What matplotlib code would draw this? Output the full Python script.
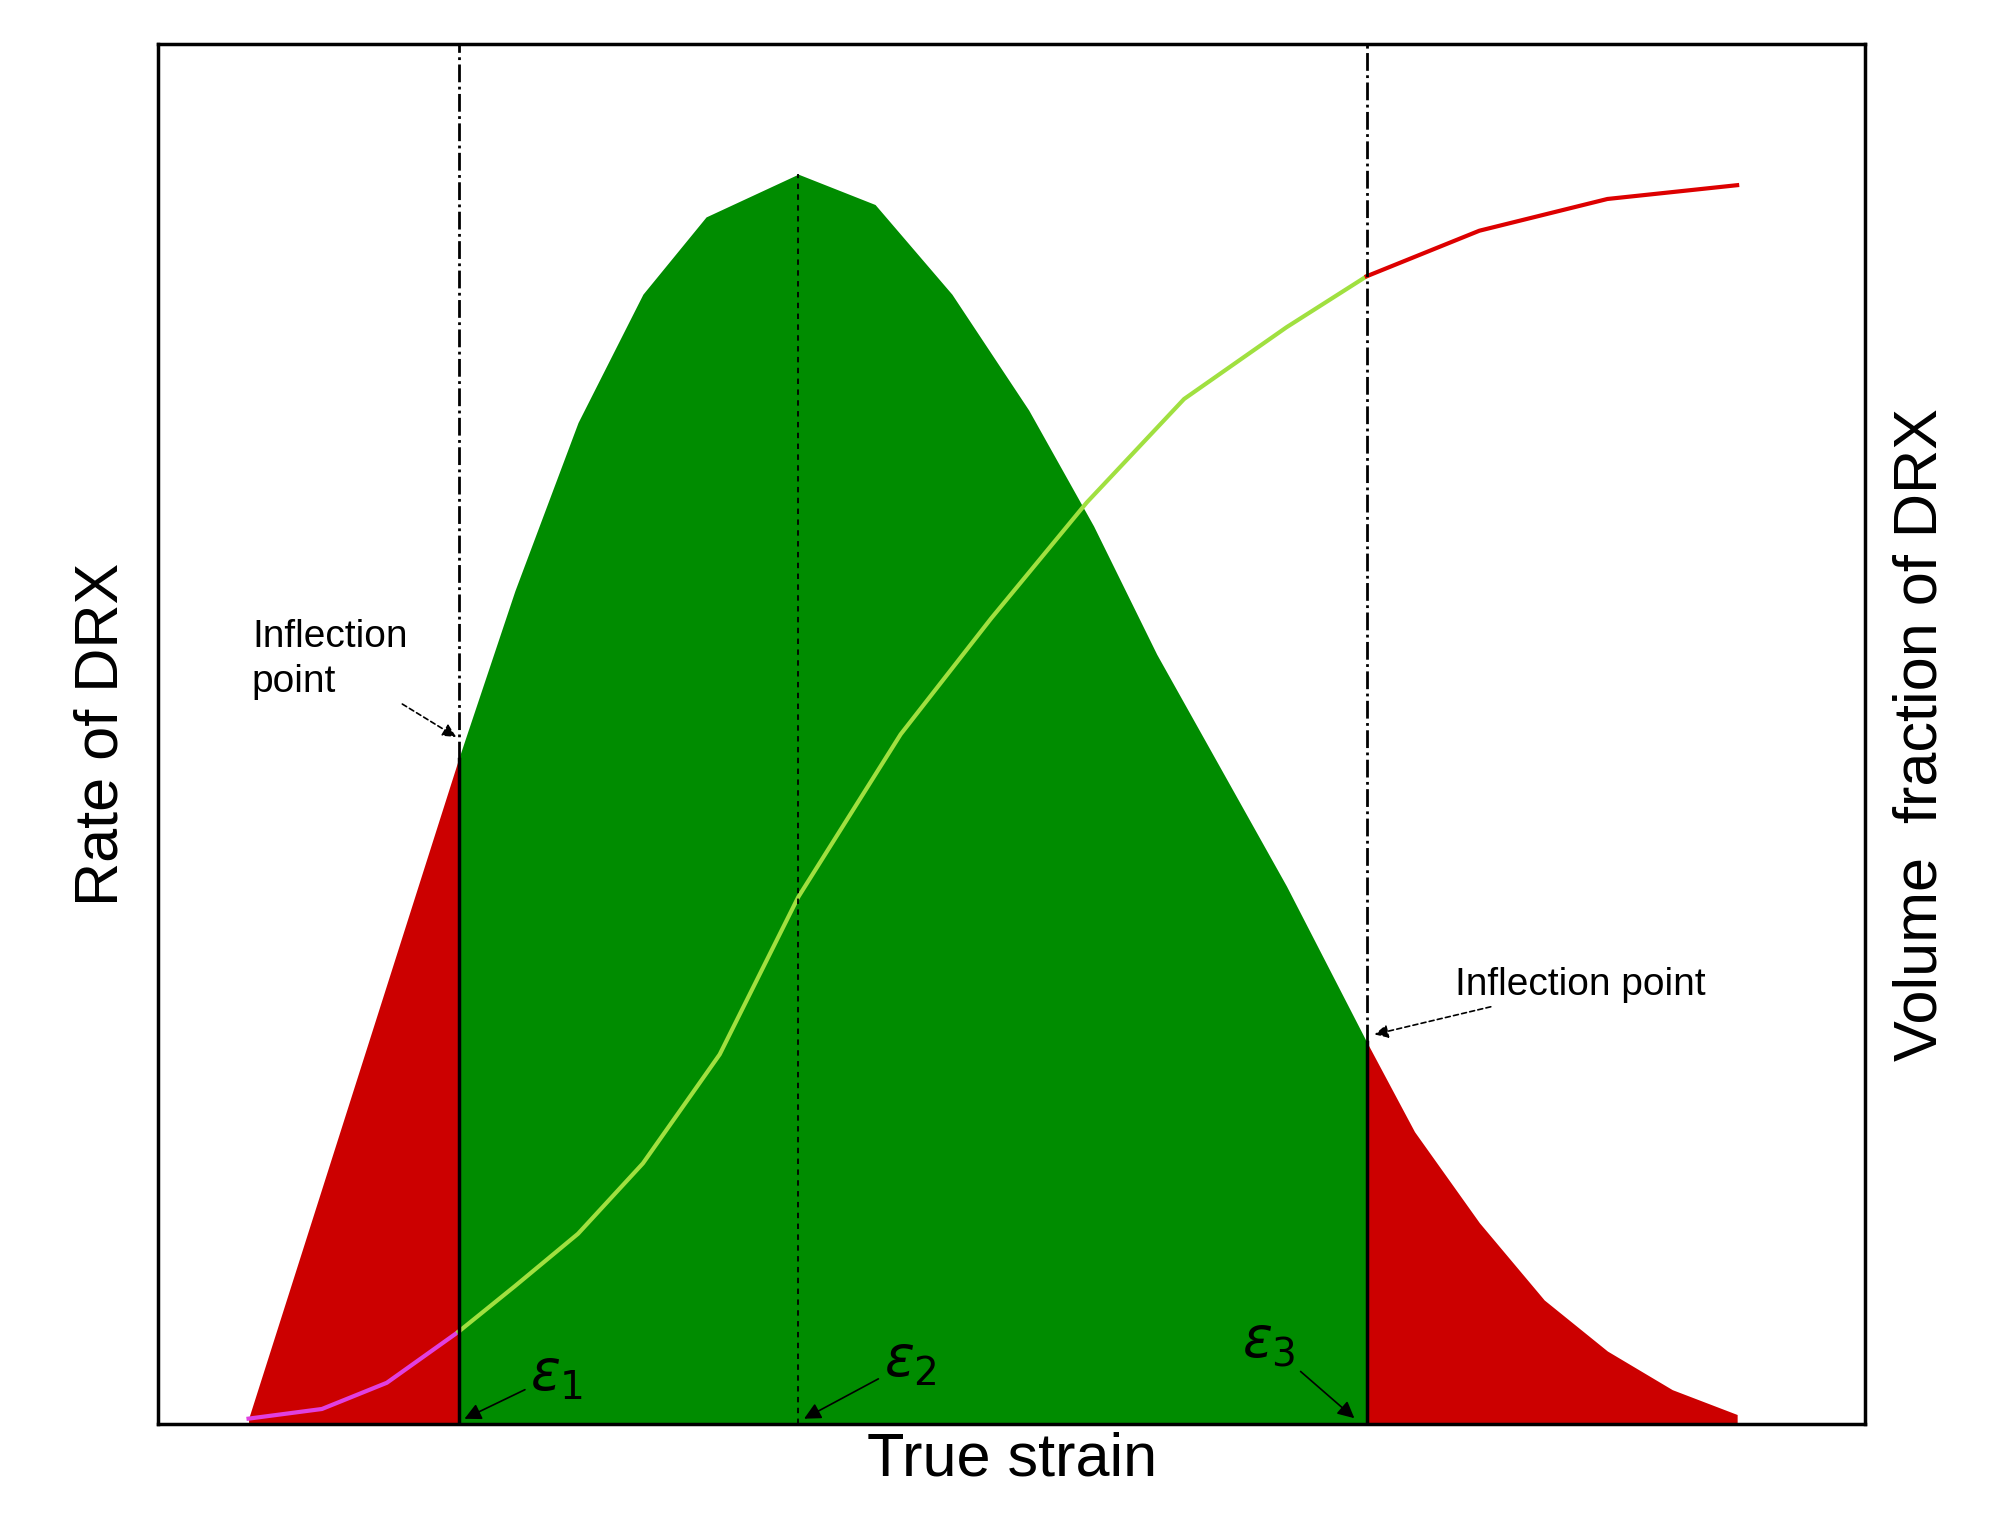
import matplotlib
matplotlib.use("Agg")
import matplotlib.pyplot as plt
import numpy as np

plt.rcParams['font.family'] = ['Liberation Sans', 'DejaVu Sans']

# Rate of DRX curve (x, y in 0-100 plot units)
rate_x = [5.3, 17.6, 20.9, 24.6, 28.4, 32.1, 37.5, 42.0, 46.5, 51.0, 54.8, 58.5, 62.3, 66.1, 70.8, 73.6, 77.4, 81.2, 84.9, 88.7, 92.5]
rate_y = [0.4, 48.2, 60.4, 72.6, 81.9, 87.5, 90.6, 88.4, 81.9, 73.5, 65.1, 55.8, 47.4, 39.0, 27.7, 21.2, 14.6, 9.0, 5.3, 2.5, 0.7]
# Volume fraction curve
vol_x = [5.3, 9.6, 13.4, 17.6, 20.9, 24.6, 28.4, 32.9, 37.5, 43.5, 48.8, 54.4, 60.1, 66.1, 70.8, 77.4, 84.9, 92.5]
vol_y = [0.4, 1.1, 3.0, 6.7, 10.0, 13.8, 18.9, 26.8, 38.2, 50.0, 58.4, 66.8, 74.3, 79.5, 83.2, 86.5, 88.8, 89.8]
eps = [17.6, 37.5, 70.8]

fig = plt.figure(figsize=(20.06, 15.33), dpi=100)
ax = fig.add_axes([0.0788, 0.071, 0.851, 0.90])
ax.set_xlim(0, 100); ax.set_ylim(0, 100)
rx = np.array(rate_x); ry = np.array(rate_y)
vx = np.array(vol_x); vy = np.array(vol_y)

i1 = rate_x.index(eps[0]); i3 = rate_x.index(eps[2])
red = '#cc0000'; green = '#008c00'
ax.fill_between(rx[:i1+1], 0, ry[:i1+1], color=red, lw=0)
ax.fill_between(rx[i1:i3+1], 0, ry[i1:i3+1], color=green, lw=0)
ax.fill_between(rx[i3:], 0, ry[i3:], color=red, lw=0)

j1 = vol_x.index(eps[0]); j3 = vol_x.index(eps[2])
ax.plot(vx[:j1+1], vy[:j1+1], color='#e040e0', lw=3)
ax.plot(vx[j1:j3+1], vy[j1:j3+1], color='#a0e040', lw=3)
ax.plot(vx[j3:], vy[j3:], color='#dd0000', lw=3)

y1 = np.interp(eps[0], rx, ry); y2 = np.interp(eps[1], rx, ry); y3 = np.interp(eps[2], rx, ry)
for e, yy in [(eps[0], y1), (eps[2], y3)]:
    ax.plot([e, e], [yy, 100], color='black', lw=2, ls='-.')
    ax.plot([e, e], [0, yy], color='black', lw=2.5)
ax.plot([eps[1], eps[1]], [0, y2], color='black', lw=1.3, ls=(0, (3, 3)))

ax.set_xticks([]); ax.set_yticks([])
for s in ax.spines.values():
    s.set_linewidth(2.5)

ax.set_xlabel('True strain', fontsize=44, labelpad=5)
ax.set_ylabel('Rate of DRX', fontsize=44, labelpad=20)
ax2 = ax.twinx(); ax2.set_yticks([])
ax2.set_ylabel('Volume  fraction of DRX', fontsize=44, labelpad=20)

ap = dict(arrowstyle='-|>', color='black', lw=1.2, ls=(0, (3, 2)), mutation_scale=20)
ax.annotate('Inflection\npoint', xy=(eps[0], y1 + 1.5), xytext=(5.5, 52.5), fontsize=28,
            ha='left', va='bottom', arrowprops=ap, linespacing=1.3)
ax.annotate('Inflection point', xy=(eps[2] + 0.3, y3 + 0.5), xytext=(76, 30.5), fontsize=28,
            ha='left', va='bottom', arrowprops=ap)
ap2 = dict(arrowstyle='-|>', color='black', lw=1.2, mutation_scale=25)
ax.annotate(r'$\epsilon_1$', xy=(eps[0] + 0.2, 0.3), xytext=(21.8, 2.5), fontsize=40,
            arrowprops=ap2, family='DejaVu Serif')
ax.annotate(r'$\epsilon_2$', xy=(eps[1] + 0.2, 0.3), xytext=(42.5, 3.5), fontsize=40,
            arrowprops=ap2)
ax.annotate(r'$\epsilon_3$', xy=(eps[2] - 0.6, 0.3), xytext=(63.5, 4.8), fontsize=40,
            arrowprops=ap2)
plt.rcParams['mathtext.fontset'] = 'dejavuserif'
fig.savefig('out.png', dpi=100)
